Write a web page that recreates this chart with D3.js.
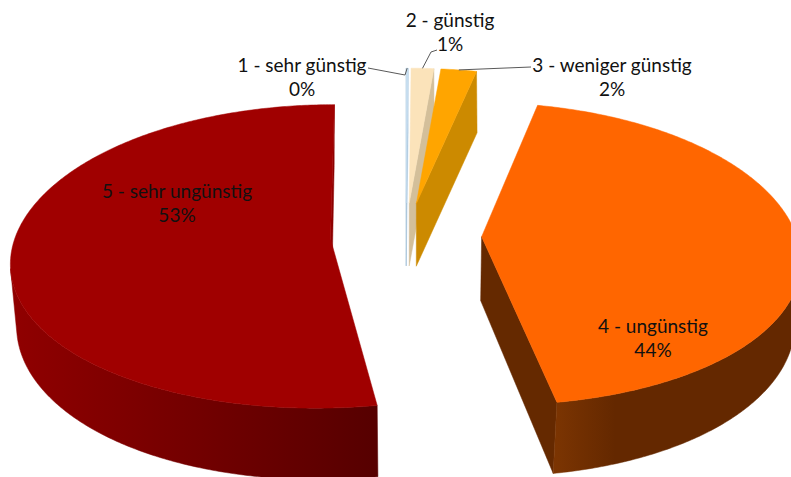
<!DOCTYPE html>
<html><head><meta charset="utf-8">
<script src="https://cdn.jsdelivr.net/npm/d3@7"></script>
<style>html,body{margin:0;padding:0;background:#fff;overflow:hidden}</style>
</head><body>
<svg id="c" width="791" height="477"></svg>
<script>
// ---- data ----
const categories = ["1 - sehr günstig", "2 - günstig", "3 - weniger günstig", "4 - ungünstig", "5 - sehr ungünstig"];
const values = [0.1, 1.2, 1.9, 44.2, 52.6];

// ---- styles ----
const topColors  = ["#C5DDF0", "#FBE3BA", "#FFA500", "#FF6600", "#A00000"];
const faceColors = ["#A9C4DA", "#D3BF9A", "#CC8A00", "#652900", "#8C0000"];
const wallColors = [["#9DB8CE", "#8AA5BB"], ["#CDB58E", "#B9A27C"], ["#C98400", "#B07300"], ["#7C3502", "#642800"], ["#900000", "#560000"]];
// label layout (text anchor centre, baseline of first line) and leader elbows
const labelLayout = [
  {x: 302, y: 72, inside: false, leader: [[368, 68], [405, 75]]},
  {x: 450, y: 27, inside: false, leader: [[437, 50], [431, 52]]},
  {x: 612, y: 72, inside: false, leader: [[531, 67]]},
  {x: 653, y: 333, inside: true},
  {x: 177, y: 198, inside: true}
];

const W = 791, H = 477;
const cx = 406, cy = 236, RX = 315;
const sinA = 0.4476, cosA = Math.sqrt(1 - sinA * sinA), T = 0.23, explode = 0.24;
const camDist = 7;
const C = [0, camDist * sinA, -camDist * cosA];
// depth-dependent scale (Excel-like perspective, front magnified more than back shrinks)
const persp = q => 1 - 0.1352 * q + 0.0895 * q * q;

function proj(x, h, z) {
  const q = z * cosA - h * sinA;
  const s = persp(q);
  return [cx + RX * x * s, cy - RX * (h * cosA + z * sinA) * s];
}

const svg = d3.select("#c");
const defs = svg.append("defs");
const total = d3.sum(values);
const arcs = d3.pie().sort(null).value(d => d)(values);

const slices = arcs.map((a, i) => {
  const mid = (a.startAngle + a.endAngle) / 2;
  return {i, a0: a.startAngle, a1: a.endAngle, mid,
    ox: explode * Math.sin(mid), oz: explode * Math.cos(mid), value: a.value};
});

function rim(sl, th, h) { return proj(sl.ox + Math.sin(th), h, sl.oz + Math.cos(th)); }
function apex(sl, h) { return proj(sl.ox, h, sl.oz); }
const line = d3.line();
function poly(pts) { return line(pts) + "Z"; }

function sample(a0, a1) {
  const n = Math.max(2, Math.ceil((a1 - a0) / 0.01));
  return d3.range(n + 1).map(k => a0 + (a1 - a0) * k / n);
}

const order = slices.slice().sort((p, q) => q.oz - p.oz);

order.forEach(sl => {
  const g = svg.append("g");
  // radial faces (back-face culled against the camera position)
  const faces = [
    {th: sl.a0, n: [-Math.cos(sl.a0), Math.sin(sl.a0)]},
    {th: sl.a1, n: [Math.cos(sl.a1), -Math.sin(sl.a1)]}
  ];
  faces.forEach(f => {
    const px = sl.ox + 0.5 * Math.sin(f.th), pz = sl.oz + 0.5 * Math.cos(f.th);
    const dot = f.n[0] * (C[0] - px) + f.n[1] * (C[2] - pz);
    if (dot > 0) {
      g.append("path").attr("d", poly([apex(sl, 0), rim(sl, f.th, 0), rim(sl, f.th, -T), apex(sl, -T)]))
        .attr("fill", faceColors[sl.i]).attr("stroke", faceColors[sl.i]).attr("stroke-width", 0.5);
    }
  });
  // outer wall, visible runs
  const ths = sample(sl.a0, sl.a1);
  const vis = ths.map(th => {
    const px = sl.ox + Math.sin(th), pz = sl.oz + Math.cos(th);
    return Math.sin(th) * (C[0] - px) + Math.cos(th) * (C[2] - pz) > 0;
  });
  let runs = [], cur = null;
  ths.forEach((th, k) => {
    if (vis[k]) { if (!cur) { cur = []; runs.push(cur); } cur.push(th); }
    else cur = null;
  });
  runs.forEach((run, r) => {
    if (run.length < 2) return;
    const topPts = run.map(th => rim(sl, th, 0));
    const botPts = run.map(th => rim(sl, th, -T)).reverse();
    const pts = topPts.concat(botPts);
    const xs = pts.map(p => p[0]);
    const gid = "wg" + sl.i + "_" + r;
    const lg = defs.append("linearGradient").attr("id", gid).attr("gradientUnits", "userSpaceOnUse")
      .attr("x1", d3.min(xs)).attr("x2", d3.max(xs)).attr("y1", 0).attr("y2", 0);
    lg.append("stop").attr("offset", 0).attr("stop-color", wallColors[sl.i][0]);
    lg.append("stop").attr("offset", sl.i === 3 ? 0.25 : 1).attr("stop-color", wallColors[sl.i][1]);
    g.append("path").attr("d", poly(pts)).attr("fill", `url(#${gid})`)
      .attr("stroke", `url(#${gid})`).attr("stroke-width", 0.5);
  });
  // top surface
  const topPts = [apex(sl, 0)].concat(ths.map(th => rim(sl, th, 0)));
  g.append("path").attr("d", poly(topPts)).attr("fill", topColors[sl.i])
    .attr("stroke", topColors[sl.i]).attr("stroke-width", 0.5);
});

// labels
const fmt = v => Math.round(v / total * 100) + "%";
const lab = svg.append("g").attr("font-family", "Lato, 'Open Sans', sans-serif")
  .attr("font-size", 19).attr("fill", "#111").attr("text-anchor", "middle");
slices.forEach(sl => {
  const L = labelLayout[sl.i];
  if (!L.inside) {
    const end = rim(sl, sl.mid, 0);
    svg.append("path").attr("d", d3.line()(L.leader.concat([end])))
      .attr("fill", "none").attr("stroke", "#595959").attr("stroke-width", 1);
  }
  lab.append("text").attr("x", L.x).attr("y", L.y).text(categories[sl.i]);
  lab.append("text").attr("x", L.x).attr("y", L.y + 24).text(fmt(sl.value));
});
</script>
</body></html>
